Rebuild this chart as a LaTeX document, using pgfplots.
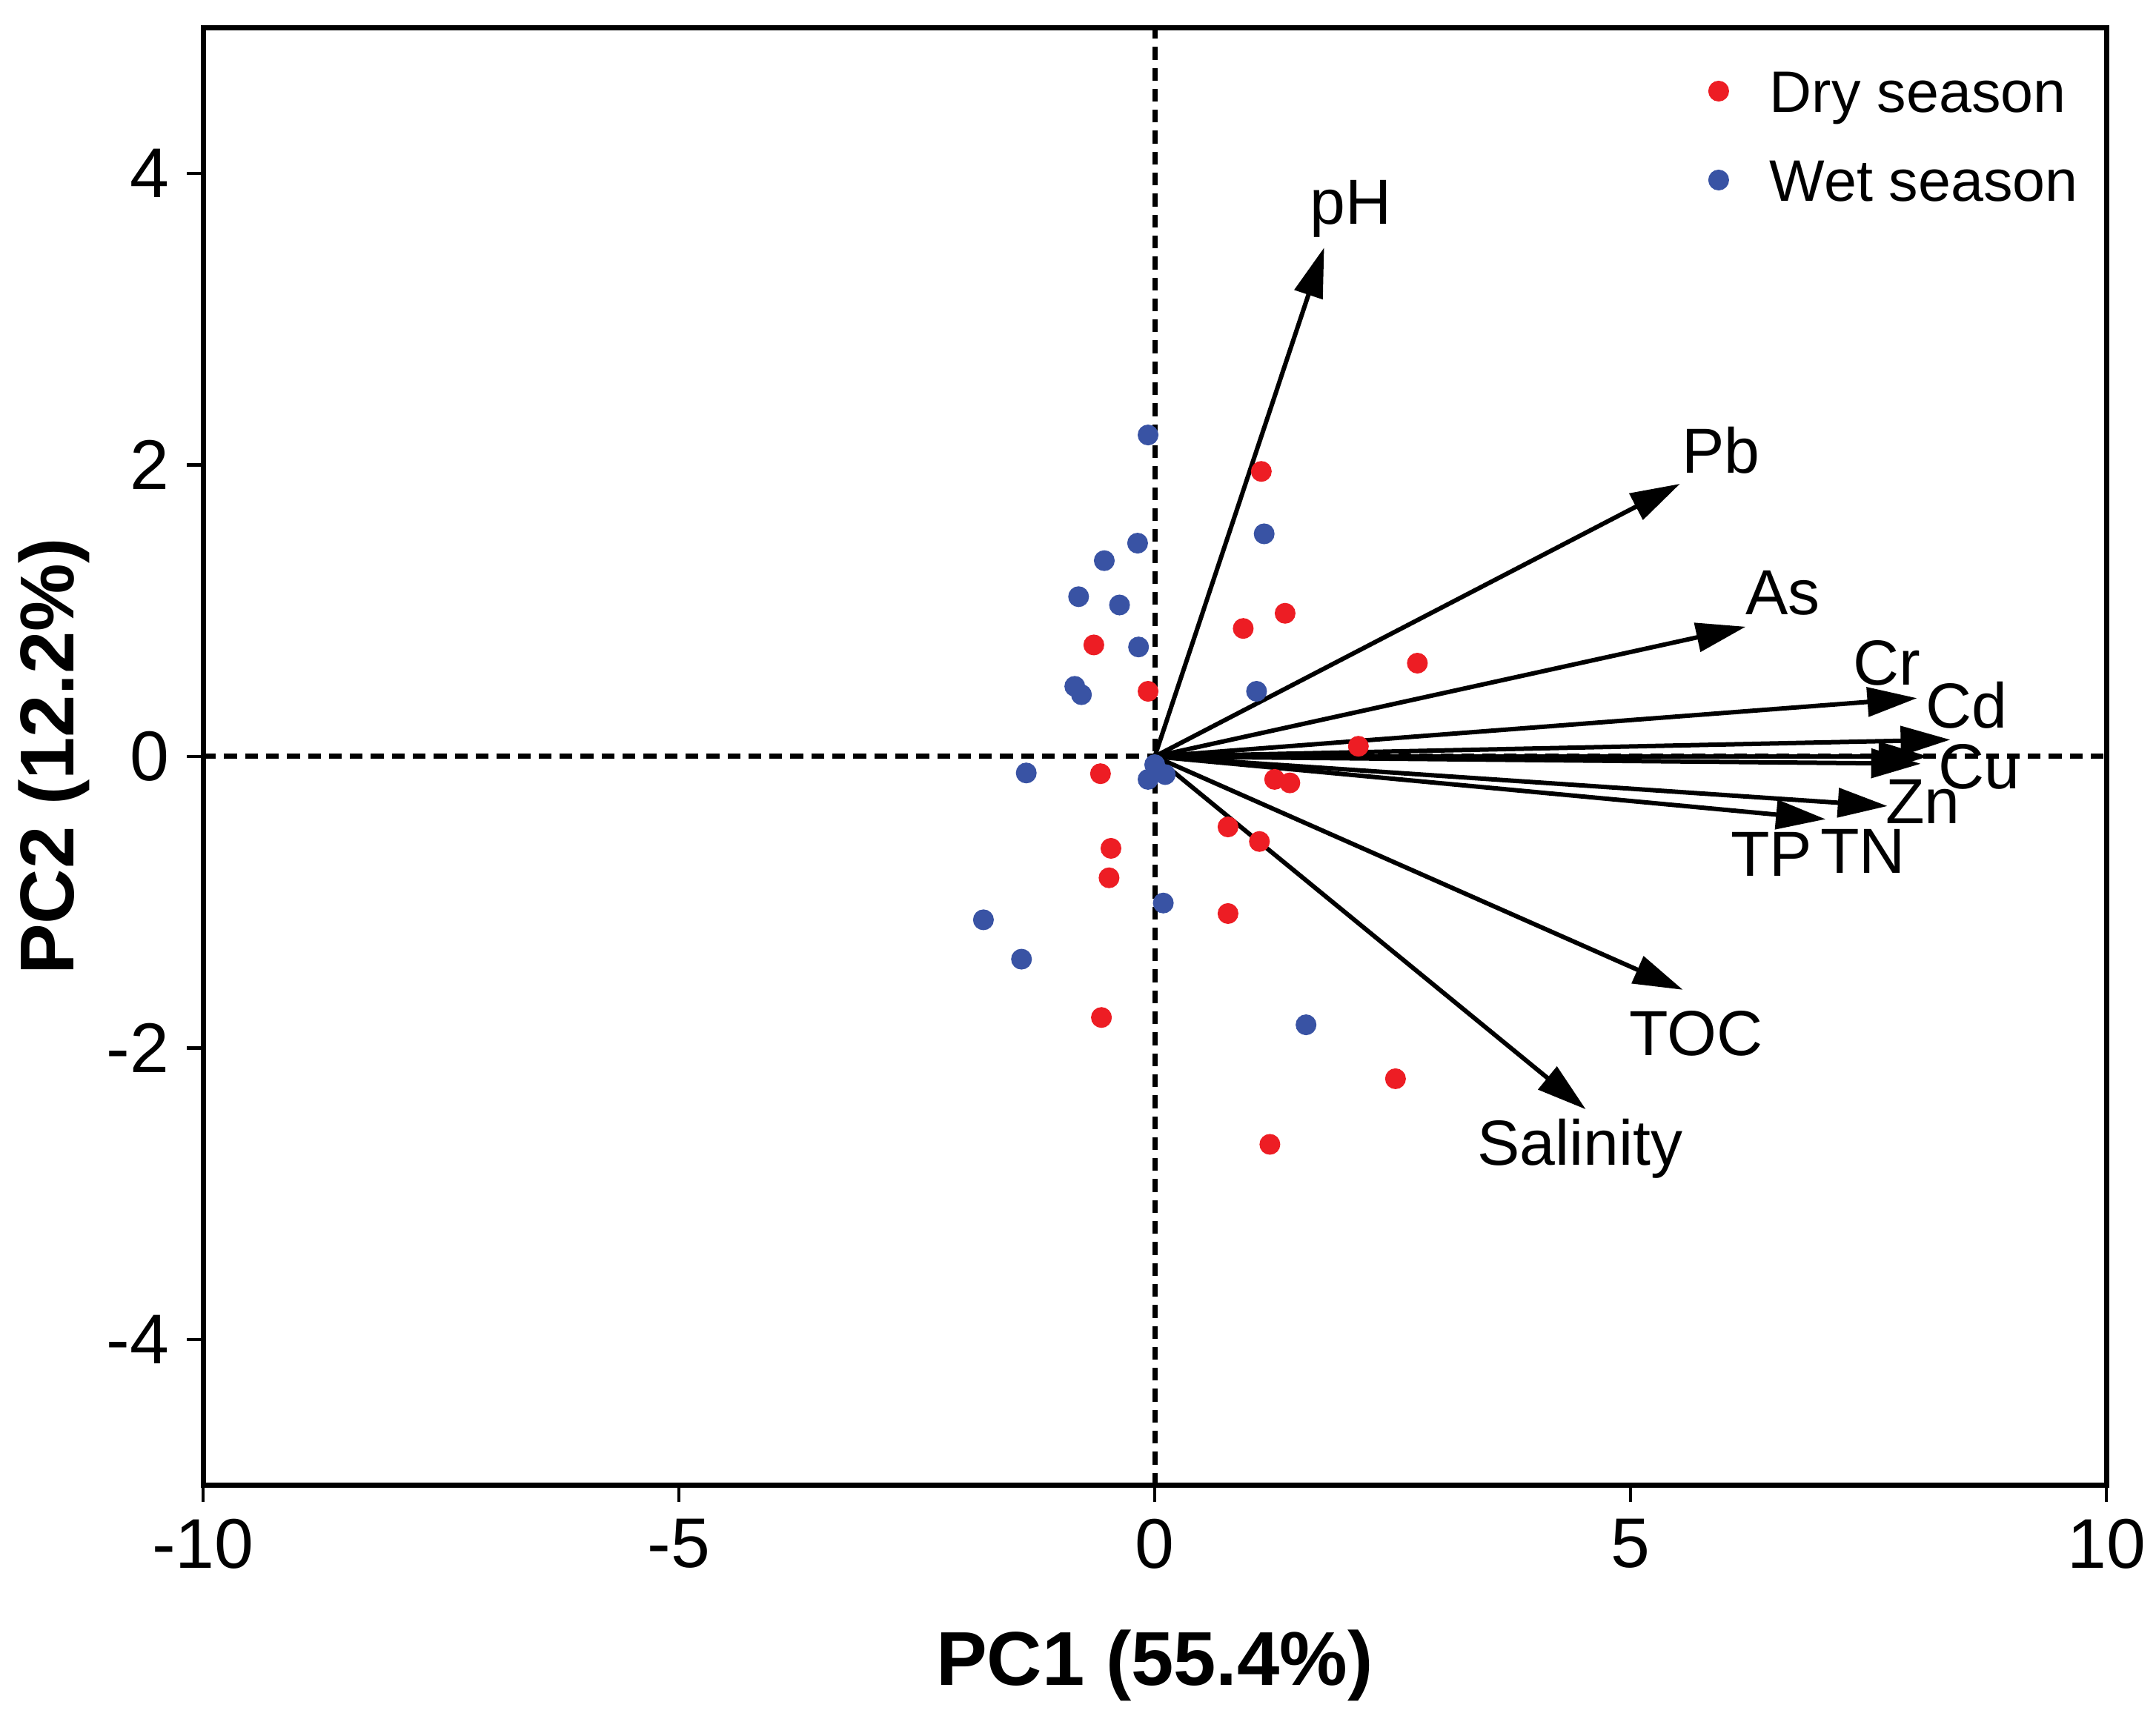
\documentclass[border=0pt]{standalone}
\usepackage{fontspec}
\setmainfont{Liberation Sans}
\usepackage{pgfplots}
\pgfplotsset{compat=1.18}
\usetikzlibrary{arrows.meta}

\definecolor{dryred}{RGB}{237,29,36}
\definecolor{wetblue}{RGB}{57,83,164}

\tikzset{
  loading/.style={black, line width=0.6pt, -{Triangle[length=6.7pt,width=3.9pt]}},
  varlabel/.style={font=\fontsize{8.6}{10}\selectfont, inner sep=0pt},
  zeroline/.style={black, line width=0.7pt, dash pattern=on 1.73pt off 1.1pt},
}

\begin{document}
\begin{tikzpicture}
\begin{axis}[
  scale only axis,
  width=256.8pt, height=196.8pt,
  xmin=-10, xmax=10, ymin=-5, ymax=5,
  xtick={-10,-5,0,5,10}, ytick={-4,-2,0,2,4},
  xtick pos=left, ytick pos=left,
  tick align=outside, major tick length=2.2pt,
  tick style={line width=0.45pt, black},
  axis line style={line width=0.7pt},
  /pgf/number format/assume math mode=true,
  tick label style={font=\fontsize{9.5}{11}\selectfont, inner sep=0pt},
  xticklabel shift=2.1pt, yticklabel shift=2.2pt,
  xlabel={PC1 (55.4\%)}, ylabel={PC2 (12.2\%)},
  label style={font=\fontsize{10.3}{12}\selectfont\bfseries, inner sep=0pt},
  xlabel style={at={([yshift=-19.3pt]axis description cs:0.5,0)}, anchor=north},
  ylabel style={at={([xshift=-15.1pt]axis description cs:0,0.5)}, anchor=south},
  legend style={draw=none, fill=none, inner sep=0pt, outer sep=0pt,
    at={(axis cs:5.813,4.708)}, anchor=north west,
    row sep=6.3pt, column sep=0pt,
    font=\fontsize{7.9}{9}\selectfont,
    nodes={inner sep=0pt, text height=5.7pt, text depth=0pt}},
  legend cell align=left,
  legend image code/.code={
    \draw[#1] plot coordinates {(0pt,0pt)};
    \path (-1.25pt,0pt) (6.7pt,0pt);
  },
]

% zero reference lines
\addplot[zeroline, forget plot] coordinates {(-10,0) (10,0)};
\addplot[zeroline, forget plot] coordinates {(0,-5) (0,5)};

% sample scores
\addplot[only marks, mark=*, mark size=1.2pt, color=dryred,
  mark options={draw=none, fill=dryred}] coordinates {
  (1.12,1.955) (1.37,0.982) (0.93,0.878) (-0.64,0.765) (-0.07,0.447)
  (2.76,0.64) (2.14,0.07) (-0.57,-0.118) (1.26,-0.157) (1.42,-0.181)
  (0.77,-0.483) (1.10,-0.583) (-0.46,-0.63) (-0.48,-0.832) (0.77,-1.077)
  (-0.56,-1.79) (2.53,-2.21) (1.21,-2.66)
};
\addlegendentry{Dry season}

\addplot[only marks, mark=*, mark size=1.2pt, color=wetblue,
  mark options={draw=none, fill=wetblue}] coordinates {
  (-0.07,2.205) (1.15,1.527) (-0.18,1.463) (-0.53,1.343) (-0.80,1.096)
  (-0.37,1.039) (-0.17,0.751) (-0.84,0.481) (-0.77,0.424) (1.07,0.447)
  (-1.35,-0.113) (0.0,-0.056) (-0.07,-0.157) (0.11,-0.124) (0.09,-1.005)
  (-1.80,-1.12) (-1.40,-1.39) (1.59,-1.84)
};
\addlegendentry{Wet season}

% variable loadings
\addplot[loading, forget plot] coordinates {(0,0) (1.78,3.49)};   % pH
\addplot[loading, forget plot] coordinates {(0,0) (5.52,1.87)};   % Pb
\addplot[loading, forget plot] coordinates {(0,0) (6.21,0.89)};   % As
\addplot[loading, forget plot] coordinates {(0,0) (8.01,0.40)};   % Cr
\addplot[loading, forget plot] coordinates {(0,0) (8.36,0.115)};  % Cd
\addplot[loading, forget plot] coordinates {(0,0) (8.13,0.0)};    % Cu
\addplot[loading, forget plot] coordinates {(0,0) (8.05,-0.05)};  % TN
\addplot[loading, forget plot] coordinates {(0,0) (7.70,-0.34)};  % Zn
\addplot[loading, forget plot] coordinates {(0,0) (7.05,-0.43)};  % TP
\addplot[loading, forget plot] coordinates {(0,0) (5.55,-1.60)};  % TOC
\addplot[loading, forget plot] coordinates {(0,0) (4.53,-2.42)};  % Salinity

\node[varlabel] at (axis cs:2.06,3.755) {pH};
\node[varlabel] at (axis cs:5.95,2.10) {Pb};
\node[varlabel] at (axis cs:6.60,1.12) {As};
\node[varlabel] at (axis cs:7.69,0.64) {Cr};
\node[varlabel] at (axis cs:8.53,0.35) {Cd};
\node[varlabel] at (axis cs:8.66,-0.07) {Cu};
\node[varlabel] at (axis cs:8.07,-0.31) {Zn};
\node[varlabel] at (axis cs:6.48,-0.67) {TP};
\node[varlabel] at (axis cs:7.44,-0.65) {TN};
\node[varlabel] at (axis cs:5.69,-1.90) {TOC};
\node[varlabel] at (axis cs:4.47,-2.69) {Salinity};
\end{axis}
\pgfresetboundingbox
\path[use as bounding box]
  ([shift={(-27.4pt,-31.1pt)}]current axis.south west)
  rectangle ([shift={(6.7pt,3.7pt)}]current axis.north east);
\end{tikzpicture}
\end{document}
